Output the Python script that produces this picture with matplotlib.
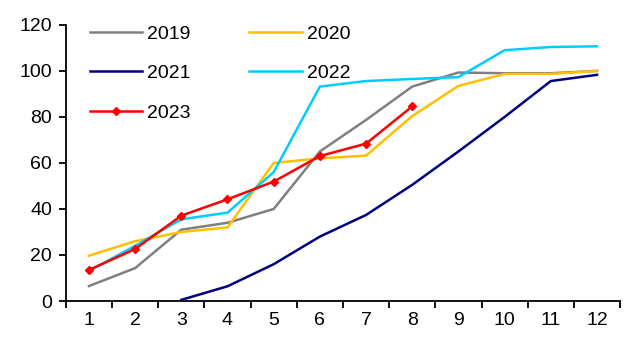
import matplotlib
matplotlib.use("Agg")
import matplotlib.pyplot as plt
from matplotlib.ticker import FixedLocator, NullFormatter

plt.rcParams['font.family'] = ['Liberation Sans', 'DejaVu Sans']

months = [1, 2, 3, 4, 5, 6, 7, 8, 9, 10, 11, 12]
s2019 = [6.5, 14.3, 31, 34, 40, 65, 78.7, 93.2, 99.3, 99, 99, 100]
s2020 = [19.7, 26, 30, 32, 60, 62, 63.2, 80.4, 93.5, 98.7, 98.7, 100]
s2021_months = [3, 4, 5, 6, 7, 8, 9, 10, 11, 12]
s2021 = [0.5, 6.4, 16, 28, 37.4, 50.5, 65, 80, 95.6, 98.3]
s2022 = [13, 24, 35.5, 38.4, 56, 93.2, 95.6, 96.5, 97.3, 109, 110.4, 110.7]
s2023_months = [1, 2, 3, 4, 5, 6, 7, 8]
s2023 = [13.5, 22.6, 37.1, 44.2, 51.9, 63, 68.4, 84.6]

fs = 14

fig = plt.figure(figsize=(6.27, 3.43), dpi=100)
ax = fig.add_axes([0.105, 0.1224, 0.884, 0.805])

lw = 1.8
h19, = ax.plot(months, s2019, color='#808080', lw=lw, label='2019')
h20, = ax.plot(months, s2020, color='#FFC000', lw=lw, label='2020')
h21, = ax.plot(s2021_months, s2021, color='#000080', lw=lw, label='2021')
h22, = ax.plot(months, s2022, color='#00CCFF', lw=lw, label='2022')
h23, = ax.plot(s2023_months, s2023, color='#FF0000', lw=lw, marker='D',
               ms=4, label='2023')

ax.set_xlim(0.5, 12.5)
ax.set_ylim(0, 120)
ax.set_yticks([0, 20, 40, 60, 80, 100, 120])

# category boundaries carry the tick marks, labels sit at category centres
ax.xaxis.set_major_locator(FixedLocator([i + 0.5 for i in range(0, 13)]))
ax.xaxis.set_major_formatter(NullFormatter())
ax.xaxis.set_minor_locator(FixedLocator(months))
ax.set_xticklabels([str(m) for m in months], minor=True)
ax.tick_params(axis='x', which='major', direction='out', length=5, width=1.3)
ax.tick_params(axis='x', which='minor', length=0, pad=8, labelsize=fs)
ax.tick_params(axis='y', direction='out', length=5, width=1.3, pad=5,
               labelsize=fs)

for side in ('top', 'right'):
    ax.spines[side].set_visible(False)
for side in ('left', 'bottom'):
    ax.spines[side].set_linewidth(1.3)

# legend filled row by row: 2019/2020, 2021/2022, 2023
handles = [h19, h21, h23, h20, h22]
ax.legend(handles, [h.get_label() for h in handles], ncol=2,
          loc='upper left', bbox_to_anchor=(0.012, 1.062),
          frameon=False, fontsize=fs, handlelength=2.7,
          handletextpad=0.25, columnspacing=3.0, labelspacing=1.12)

fig.savefig('out.png', dpi=100)
